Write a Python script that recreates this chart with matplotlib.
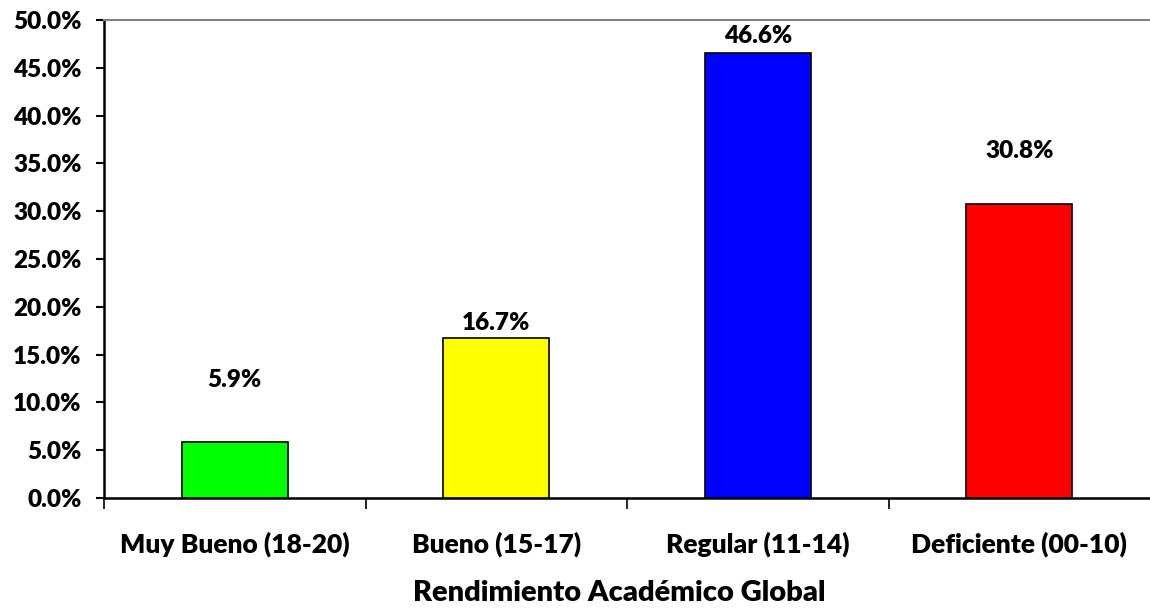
import matplotlib
matplotlib.use("Agg")
import matplotlib.pyplot as plt
from matplotlib.ticker import FuncFormatter, FixedLocator

categories = ["Muy Bueno (18-20)", "Bueno (15-17)", "Regular (11-14)", "Deficiente (00-10)"]
values = [5.9, 16.7, 46.6, 30.8]
colors = ["#00FF00", "#FFFF00", "#0000FF", "#FF0000"]
label_offsets_pt = [44, 11, 12, 38]   # Excel-like label placement above bars (points)
x_title = "Rendimiento Académico Global"

W = "heavy"
plt.rcParams['font.family'] = ['Lato', 'DejaVu Sans']
plt.rcParams['font.weight'] = W

fig = plt.figure(figsize=(11.5, 6.15), dpi=100)
ax = fig.add_axes([104/1150, 1 - 498/615, 1 - 104/1150, (498 - 20)/615])

x = list(range(len(categories)))
ax.bar(x, values, width=0.405, color=colors, edgecolor="black", linewidth=1.2, zorder=3)

for xi, v, off in zip(x, values, label_offsets_pt):
    ax.annotate(f"{v:.1f}%", (xi, v), xytext=(0, off), textcoords="offset points",
                ha="center", va="center", fontsize=17.5, fontweight=W, color="black")

ax.set_xlim(-0.5, 3.5)
ax.set_ylim(0, 50)
ax.yaxis.set_major_locator(FixedLocator([i * 5 for i in range(11)]))
ax.yaxis.set_major_formatter(FuncFormatter(lambda v, p: f"{v:.1f}%"))

ax.set_xticks(x)
ax.set_xticklabels(categories, fontsize=19, fontweight=W)
ax.set_xticks([-0.5, 0.5, 1.5, 2.5], minor=True)
ax.tick_params(axis="x", which="major", length=0, pad=24)
ax.tick_params(axis="x", which="minor", length=8, width=1.2, color="black")
ax.tick_params(axis="y", which="major", length=6, width=1.5, pad=10, labelsize=17.5)
for lbl in ax.get_yticklabels():
    lbl.set_fontweight(W)

ax.spines["right"].set_visible(False)
ax.spines["top"].set_color("#808080")
ax.spines["top"].set_linewidth(1.5)
ax.spines["left"].set_linewidth(1.8)
ax.spines["bottom"].set_linewidth(1.8)

ax.set_xlabel(x_title, fontsize=21, fontweight=W)
ax.xaxis.set_label_coords(0.493, -0.172)

fig.savefig("out.png", dpi=100)
